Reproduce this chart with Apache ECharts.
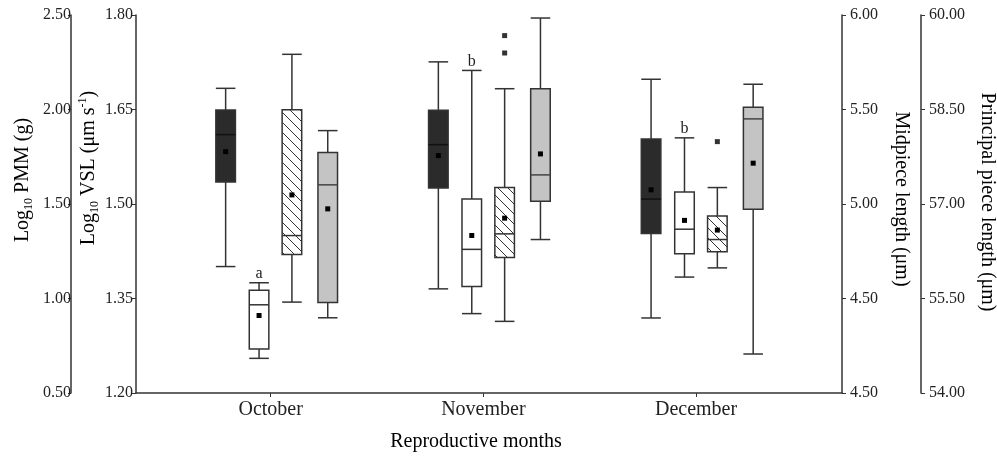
<!DOCTYPE html>
<html>
<head>
<meta charset="utf-8">
<script src="https://cdn.jsdelivr.net/npm/echarts@6/dist/echarts.min.js"></script>
<style>html,body{margin:0;padding:0;background:#fff;}#chart{width:997px;height:456px;}</style>
</head>
<body>
<div id="chart"></div>
<script>
// ---------- DATA ----------
const months = ['October', 'November', 'December'];
// each row: [lowWhisker, Q1, median, Q3, highWhisker, mean]
const pmmStats = [
  [1.169, 1.617, 1.867, 1.998, 2.112, 1.777],
  [1.051, 1.584, 1.814, 1.996, 2.252, 1.756],
  [0.897, 1.344, 1.526, 1.844, 2.160, 1.575]
];
const vslStats = [
  [1.255, 1.270, 1.340, 1.363, 1.375, 1.323],
  [1.326, 1.369, 1.428, 1.508, 1.712, 1.450],
  [1.384, 1.421, 1.460, 1.519, 1.605, 1.474]
];
const midpieceStats = [
  [4.481, 4.733, 4.833, 5.499, 5.792, 5.048],
  [4.379, 4.717, 4.842, 5.087, 5.610, 4.925],
  [4.662, 4.747, 4.812, 4.937, 5.087, 4.862]
];
const principalStats = [
  [55.194, 55.437, 57.304, 57.816, 58.165, 56.923],
  [56.436, 57.045, 57.462, 58.831, 59.952, 57.795],
  [54.619, 56.918, 58.351, 58.536, 58.901, 57.648]
];
// [monthIndex, value]
const midpieceOutliers = [[1, 5.891], [1, 5.799], [2, 5.330]];
const vslLetters = ['a', 'b', 'b'];

const pmmTicks = ['0.50', '1.00', '1.50', '2.00', '2.50'];
const vslTicks = ['1.20', '1.35', '1.50', '1.65', '1.80'];
const midpieceTicks = ['4.50', '4.50', '5.00', '5.50', '6.00'];
const principalTicks = ['54.00', '55.50', '57.00', '58.50', '60.00'];

// ---------- LAYOUT / STYLE ----------
const FONT = 'Liberation Serif';
const LINE = '#333';
const BOX_W = 0.092;
const OFFS = { pmm: -0.2116, vsl: -0.0545, mid: 0.100, pri: 0.2684 };

function hatchPattern() {
  const s = 10;
  const c = document.createElement('canvas');
  c.width = s; c.height = s;
  const g = c.getContext('2d');
  g.fillStyle = '#fff';
  g.fillRect(0, 0, s, s);
  g.strokeStyle = '#333';
  g.lineWidth = 1;
  g.beginPath();
  g.moveTo(-1, -1); g.lineTo(s + 1, s + 1);
  g.moveTo(-1, s - 1); g.lineTo(1, s + 1);
  g.moveTo(s - 1, -1); g.lineTo(s + 1, 1);
  g.stroke();
  return { image: c, repeat: 'repeat' };
}

function makeRender(offset, fill, medianColor, letters) {
  return function (params, api) {
    const x = api.value(0) + offset;
    const lo = api.coord([x, api.value(1)]);
    const q1 = api.coord([x, api.value(2)]);
    const med = api.coord([x, api.value(3)]);
    const q3 = api.coord([x, api.value(4)]);
    const hi = api.coord([x, api.value(5)]);
    const mean = api.coord([x, api.value(6)]);
    const w = api.size([BOX_W, 0])[0];
    const cx = lo[0];
    const ls = { stroke: LINE, lineWidth: 1.5 };
    const children = [
      { type: 'line', shape: { x1: cx, y1: hi[1], x2: cx, y2: lo[1] }, style: ls },
      { type: 'line', shape: { x1: cx - w / 2, y1: hi[1], x2: cx + w / 2, y2: hi[1] }, style: ls },
      { type: 'line', shape: { x1: cx - w / 2, y1: lo[1], x2: cx + w / 2, y2: lo[1] }, style: ls },
      { type: 'rect', shape: { x: cx - w / 2, y: q3[1], width: w, height: q1[1] - q3[1] },
        style: { fill: fill, stroke: LINE, lineWidth: 1.5 } },
      { type: 'line', shape: { x1: cx - w / 2, y1: med[1], x2: cx + w / 2, y2: med[1] },
        style: { stroke: medianColor, lineWidth: 1.5 } },
      { type: 'rect', shape: { x: mean[0] - 2.5, y: mean[1] - 2.5, width: 5, height: 5 },
        style: { fill: '#000' } }
    ];
    if (letters) {
      children.push({ type: 'text', x: cx, y: hi[1] - 1,
        style: { text: letters[params.dataIndex], align: 'center', verticalAlign: 'bottom',
          fontSize: 16, fontFamily: FONT, fill: '#222' } });
    }
    return { type: 'group', children: children };
  };
}

function toData(stats) { return stats.map((s, i) => [i + 1].concat(s)); }

const labelStyle = { fontSize: 16, fontFamily: FONT, color: '#222' };
const axisLineStyle = { lineStyle: { color: LINE, width: 1.5 } };

const rich = {
  n: { fontSize: 20, fontFamily: FONT, color: '#222', lineHeight: 24 },
  s: { fontSize: 12, fontFamily: FONT, color: '#222', lineHeight: 24, verticalAlign: 'bottom' },
  p: { fontSize: 12, fontFamily: FONT, color: '#222', lineHeight: 24, verticalAlign: 'top' }
};

const chart = echarts.init(document.getElementById('chart'));
chart.setOption({
  animation: false,
  backgroundColor: '#fff',
  grid: { left: 136, right: 155, top: 15, bottom: 63, containLabel: false, outerBoundsMode: 'none' },
  xAxis: {
    type: 'value', min: 0.367, max: 3.686,
    splitLine: { show: false },
    axisLine: axisLineStyle,
    axisTick: { show: true, length: 4, customValues: [1, 2, 3], lineStyle: { color: LINE } },
    axisLabel: { customValues: [1, 2, 3], formatter: v => months[Math.round(v) - 1],
      fontSize: 20, fontFamily: FONT, color: '#222', margin: 7 }
  },
  yAxis: [
    { type: 'value', position: 'left', offset: 65, min: 0.5, max: 2.5, interval: 0.5,
      splitLine: { show: false }, axisLine: { show: true, lineStyle: { color: LINE, width: 1.5 } },
      axisTick: { show: true, length: 3, lineStyle: { color: LINE } },
      axisLabel: Object.assign({ margin: 0, formatter: v => pmmTicks[Math.round((v - 0.5) / 0.5)] }, labelStyle) },
    { type: 'value', position: 'left', offset: 0, min: 1.2, max: 1.8, interval: 0.15,
      splitLine: { show: false }, axisLine: { show: true, lineStyle: { color: LINE, width: 1.5 } },
      axisTick: { show: true, length: 4, lineStyle: { color: LINE } },
      axisLabel: Object.assign({ margin: 3, formatter: v => vslTicks[Math.round((v - 1.2) / 0.15)] }, labelStyle) },
    { type: 'value', position: 'right', offset: 0, min: 4.0, max: 6.0, interval: 0.5,
      splitLine: { show: false }, axisLine: { show: true, lineStyle: { color: LINE, width: 1.5 } },
      axisTick: { show: true, length: 4, lineStyle: { color: LINE } },
      axisLabel: Object.assign({ margin: 8, formatter: v => midpieceTicks[Math.round((v - 4.0) / 0.5)] }, labelStyle) },
    { type: 'value', position: 'right', offset: 79, min: 54, max: 60, interval: 1.5,
      splitLine: { show: false }, axisLine: { show: true, lineStyle: { color: LINE, width: 1.5 } },
      axisTick: { show: true, length: 4, lineStyle: { color: LINE } },
      axisLabel: Object.assign({ margin: 8, formatter: v => principalTicks[Math.round((v - 54) / 1.5)] }, labelStyle) }
  ],
  graphic: [
    { type: 'text', x: 23, y: 180, rotation: Math.PI / 2,
      style: { text: '{n|Log}{s|10}{n| PMM (g)}', rich: rich, align: 'center', verticalAlign: 'middle' } },
    { type: 'text', x: 89, y: 168, rotation: Math.PI / 2,
      style: { text: '{n|Log}{s|10}{n| VSL (μm s}{p|-1}{n|)}', rich: rich, align: 'center', verticalAlign: 'middle' } },
    { type: 'text', x: 901, y: 199, rotation: -Math.PI / 2,
      style: { text: '{n|Midpiece length (μm)}', rich: rich, align: 'center', verticalAlign: 'middle' } },
    { type: 'text', x: 987, y: 202, rotation: -Math.PI / 2,
      style: { text: '{n|Principal piece length (μm)}', rich: rich, align: 'center', verticalAlign: 'middle' } },
    { type: 'text', x: 476, y: 442,
      style: { text: '{n|Reproductive months}', rich: rich, align: 'center', verticalAlign: 'middle' } }
  ],
  series: [
    { type: 'custom', name: 'PMM', xAxisIndex: 0, yAxisIndex: 0, data: toData(pmmStats),
      encode: { x: 0, y: [1, 2, 3, 4, 5, 6] },
      renderItem: makeRender(OFFS.pmm, '#2b2b2b', '#111', null) },
    { type: 'custom', name: 'VSL', xAxisIndex: 0, yAxisIndex: 1, data: toData(vslStats),
      encode: { x: 0, y: [1, 2, 3, 4, 5, 6] },
      renderItem: makeRender(OFFS.vsl, '#fff', LINE, vslLetters) },
    { type: 'custom', name: 'Midpiece', xAxisIndex: 0, yAxisIndex: 2, data: toData(midpieceStats),
      encode: { x: 0, y: [1, 2, 3, 4, 5, 6] },
      renderItem: makeRender(OFFS.mid, hatchPattern(), LINE, null) },
    { type: 'custom', name: 'Principal', xAxisIndex: 0, yAxisIndex: 3, data: toData(principalStats),
      encode: { x: 0, y: [1, 2, 3, 4, 5, 6] },
      renderItem: makeRender(OFFS.pri, '#c4c4c4', '#444', null) },
    { type: 'scatter', xAxisIndex: 0, yAxisIndex: 2, symbol: 'rect', symbolSize: 5,
      itemStyle: { color: '#000' },
      data: midpieceOutliers.map(([m, v]) => [m + 1 + OFFS.mid, v]) }
  ]
});
</script>
</body>
</html>
